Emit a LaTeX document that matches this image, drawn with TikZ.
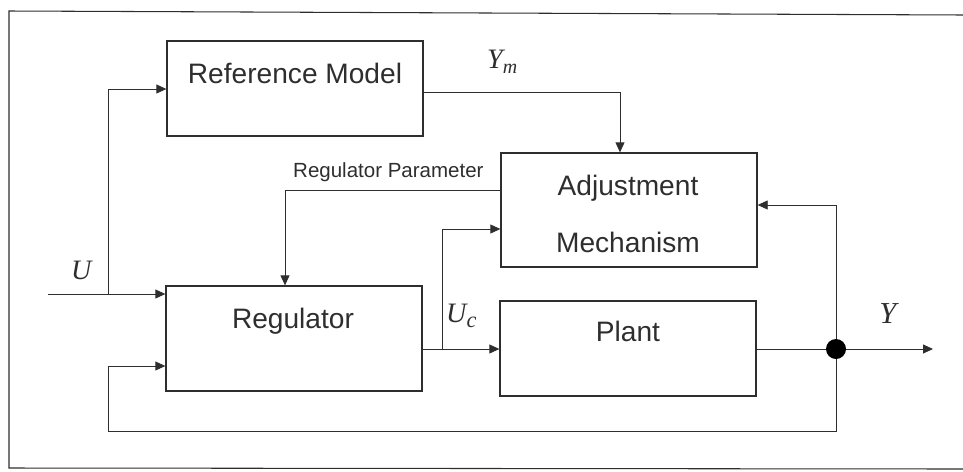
\documentclass[tikz,border=0pt]{standalone}
\usepackage{fontspec}
\setmainfont{Liberation Sans}
\newfontfamily\tms{Liberation Serif}
\usetikzlibrary{arrows.meta}
\definecolor{ink}{HTML}{2E2E2E}
\tikzset{
  x=0.03cm, y=-0.03cm,
  blockbox/.style={draw=ink, line width=1.1pt, inner sep=0pt},
  bigtext/.style={text=ink, anchor=base, inner sep=0pt, font=\fontsize{24}{28}\selectfont},
  smalltext/.style={text=ink, anchor=base west, inner sep=0pt, font=\fontsize{17.5}{20}\selectfont},
  sym/.style={text=ink, anchor=base west, inner sep=0pt, font=\tms\itshape\fontsize{24}{28}\selectfont},
  conn/.style={draw=ink, line width=0.7pt},
  arr/.style={conn, -{Triangle[length=0.3cm, width=0.27cm]}},
  frameline/.style={draw=ink, line width=0.9pt},
}
\begin{document}
\begin{tikzpicture}
\useasboundingbox (0,0) rectangle (963,471);
% frame
\draw[frameline] (963,15) -- (9,11) -- (9,468) -- (963,469);

% blocks
\node[blockbox, minimum width=7.68cm, minimum height=2.85cm] (ref) at (295,88.5) {};
\node[blockbox, minimum width=7.68cm, minimum height=3.15cm] (reg) at (294,338.5) {};
\node[blockbox, minimum width=7.68cm, minimum height=3.42cm] (adj) at (629,210) {};
\node[blockbox, minimum width=7.68cm, minimum height=2.85cm] (plant) at (628,348.5) {};

% block texts
\node[bigtext] (reft) at (295,83) {Reference Model};
\node[bigtext] (regt) at (293,328) {Regulator};
\node[bigtext] (adjt1) at (628,195) {Adjustment};
\node[bigtext] (adjt2) at (628,252) {Mechanism};
\node[bigtext] (plantt) at (628,341) {Plant};
\node[smalltext] (rpt) at (293,177) {Regulator Parameter};

% symbols
\node[sym] (ulab) at (71,279) {U};
\node[sym] (ymlab) at (487,68) {Y\raisebox{-0.2em}{\fontsize{17}{20}\selectfont m}};
\node[sym] (uclab) at (446,322) {U\raisebox{-0.2em}{\fontsize{19}{20}\selectfont c}};
\node[sym, font=\tms\itshape\fontsize{26}{30}\selectfont] (ylab) at (879,323) {Y};

% junction dot
\node[circle, fill=black, minimum size=0.6cm, inner sep=0pt] (dot) at (836,349) {};

% coordinates
\coordinate (uin) at (48,294);
\coordinate (uj) at (108,294);
\coordinate (ujt) at (108,89);
\coordinate (ymc) at (620,92);
\coordinate (rp) at (285,190);
\coordinate (ucj) at (442,349);
\coordinate (ucb) at (442,229);
\coordinate (fbt) at (836,205);
\coordinate (fb1) at (836,431);
\coordinate (fb2) at (108,431);
\coordinate (fb3) at (108,366);
\coordinate (yout) at (933,349);

% connectors
\draw[arr] (uin) -- (uin -| reg.west);
\draw[arr] (uj) -- (ujt) -- (ujt -| ref.west);
\draw[arr] (ref.east |- ymc) -- (ymc) -- (ymc |- adj.north);
\draw[arr] (adj.west |- rp) -- (rp) -- (rp |- reg.north);
\draw[arr] (reg.east |- ucj) -- (ucj -| plant.west);
\draw[arr] (ucj) -- (ucb) -- (ucb -| adj.west);
\draw[conn] (plant.east |- dot) -- (dot);
\draw[arr] (dot) -- (yout);
\draw[arr] (dot) -- (fbt) -- (fbt -| adj.east);
\draw[arr] (dot) -- (fb1) -- (fb2) -- (fb3) -- (fb3 -| reg.west);
\end{tikzpicture}
\end{document}
